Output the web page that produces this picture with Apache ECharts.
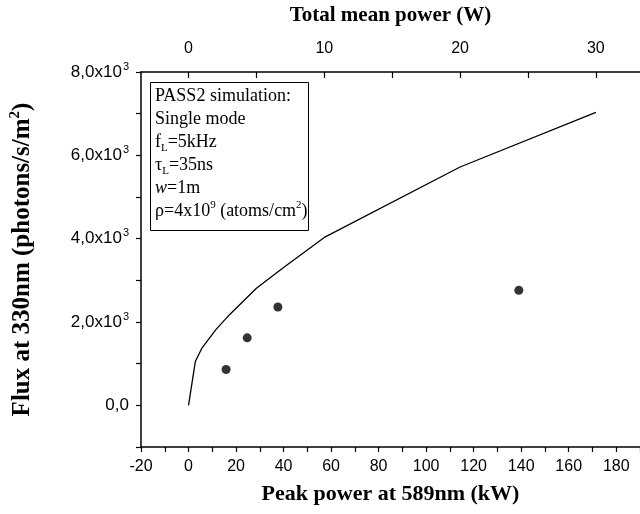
<!DOCTYPE html>
<html><head><meta charset="utf-8">
<script src="https://cdn.jsdelivr.net/npm/echarts@6/dist/echarts.min.js"></script>
<style>html,body{margin:0;padding:0;background:#fff}#c{width:640px;height:514px}</style>
</head><body><div id="c"></div>
<script>
// ---- data ----
const simPeakKW = [0, 2.86, 5.71, 11.43, 17.14, 28.57, 40, 57.14, 114.29, 171.43];
const simFlux   = [0, 1050, 1380, 1810, 2170, 2810, 3310, 4030, 5720, 7030];
const measPeakKW = [15.8, 24.7, 37.6, 139];
const measFlux   = [860, 1620, 2360, 2760];
const peakTickLabels = [-20, 0, 20, 40, 60, 80, 100, 120, 140, 160, 180];
const fluxTickLabels = [0, 2000, 4000, 6000, 8000];
const meanPowerLabelsW = [0, 10, 20, 30];
const meanPowerTicksW  = [0, 5, 10, 15, 20, 25, 30];
const wattsPerKW = 0.175; // 5 kHz x 35 ns

const serif = '"Liberation Serif", "Times New Roman", serif';
const sans = '"Liberation Sans", Arial, sans-serif';

const chart = echarts.init(document.getElementById('c'), null, {renderer: 'canvas'});
const legendText = [
  '{t|PASS2 simulation:}',
  '{t|Single mode}',
  '{t|f}{sub|L}{t|=5kHz}',
  '{t|τ}{sub|L}{t|=35ns}',
  '{i|w}{t|=1m}',
  '{t|ρ=4x10}{sup|9}{t| (atoms/cm}{sup|2}{t|)}'
].join('\n');

chart.setOption({
  backgroundColor: '#fff',
  animation: false,
  grid: {left: 138, top: 70, right: -5, bottom: 67, containLabel: false},
  xAxis: [{
    type: 'value', position: 'bottom', min: -20, max: 190, interval: 20,
    axisLine: {show: true, onZero: false, lineStyle: {color: '#000', width: 1.5}},
    axisTick: {show: true, inside: false, length: 5, lineStyle: {color: '#000', width: 1.2}},
    minorTick: {show: true, splitNumber: 2, length: 5, lineStyle: {color: '#000', width: 1.2}},
    splitLine: {show: false},
    axisLabel: {customValues: peakTickLabels, color: '#000', fontFamily: sans, fontSize: 16, margin: 12},
    name: 'Peak power at 589nm (kW)', nameLocation: 'middle', nameGap: 36,
    nameTextStyle: {fontFamily: serif, fontWeight: 'bold', fontSize: 22, color: '#000'}
  }, {
    type: 'value', position: 'top', min: -20, max: 190,
    axisLine: {show: true, onZero: false, lineStyle: {color: '#000', width: 1.5}},
    axisTick: {show: true, inside: true, length: 6, customValues: meanPowerTicksW.map(w => w / wattsPerKW), lineStyle: {color: '#000', width: 1.2}},
    splitLine: {show: false},
    axisLabel: {customValues: meanPowerLabelsW.map(w => w / wattsPerKW), formatter: v => String(Math.round(v * wattsPerKW)),
      color: '#000', fontFamily: sans, fontSize: 16, margin: 15},
    name: 'Total mean power (W)', nameLocation: 'middle', nameGap: 46,
    nameTextStyle: {fontFamily: serif, fontWeight: 'bold', fontSize: 21, color: '#000'}
  }],
  yAxis: [{
    type: 'value', min: -1000, max: 8000, interval: 1000,
    axisLine: {show: true, onZero: false, lineStyle: {color: '#000', width: 1.5}},
    axisTick: {show: true, inside: false, length: 5, lineStyle: {color: '#000', width: 1.2}},
    splitLine: {show: false},
    axisLabel: {
      customValues: fluxTickLabels, margin: 12, color: '#000',
      formatter: v => v === 0 ? '{m|0,0}' : '{m|' + (v / 1000) + ',0x10}{s|3}',
      rich: {
        m: {fontFamily: sans, fontSize: 17, color: '#000', lineHeight: 22},
        s: {fontFamily: sans, fontSize: 11, color: '#000', lineHeight: 11, verticalAlign: 'top', padding: [0, 0, 0, 1]}
      }
    },
    name: '{t|Flux at 330nm (photons/s/m}{s|2}{t|)}', nameLocation: 'middle', nameRotate: 90, nameGap: 103,
    nameTextStyle: {
      rich: {
        t: {fontFamily: serif, fontWeight: 'bold', fontSize: 25, color: '#000', lineHeight: 30},
        s: {fontFamily: serif, fontWeight: 'bold', fontSize: 15, color: '#000', lineHeight: 15, verticalAlign: 'top'}
      }
    }
  }],
  graphic: [
    {type: 'rect', left: 150, top: 82, z: 100,
     shape: {width: 158, height: 148}, style: {fill: '#fff', stroke: '#000', lineWidth: 1}},
    {type: 'text', left: 155, top: 87, z: 101,
     style: {
       text: legendText, fill: '#000',
       rich: {
         t: {fontFamily: serif, fontSize: 18, lineHeight: 23, fill: '#000'},
         i: {fontFamily: serif, fontSize: 18, lineHeight: 23, fontStyle: 'italic', fill: '#000'},
         sub: {fontFamily: serif, fontSize: 11, lineHeight: 13, verticalAlign: 'bottom', fill: '#000'},
         sup: {fontFamily: serif, fontSize: 11, lineHeight: 13, verticalAlign: 'top', fill: '#000'}
       }
     }}
  ],
  series: [{
    type: 'line', xAxisIndex: 0, yAxisIndex: 0,
    data: simPeakKW.map((x, i) => [x, simFlux[i]]),
    showSymbol: false, symbol: 'none',
    lineStyle: {color: '#000', width: 1.3}
  }, {
    type: 'scatter', xAxisIndex: 0, yAxisIndex: 0,
    data: measPeakKW.map((x, i) => [x, measFlux[i]]),
    symbol: 'circle', symbolSize: 9,
    itemStyle: {color: '#000'}
  }]
});
</script>
</body></html>
